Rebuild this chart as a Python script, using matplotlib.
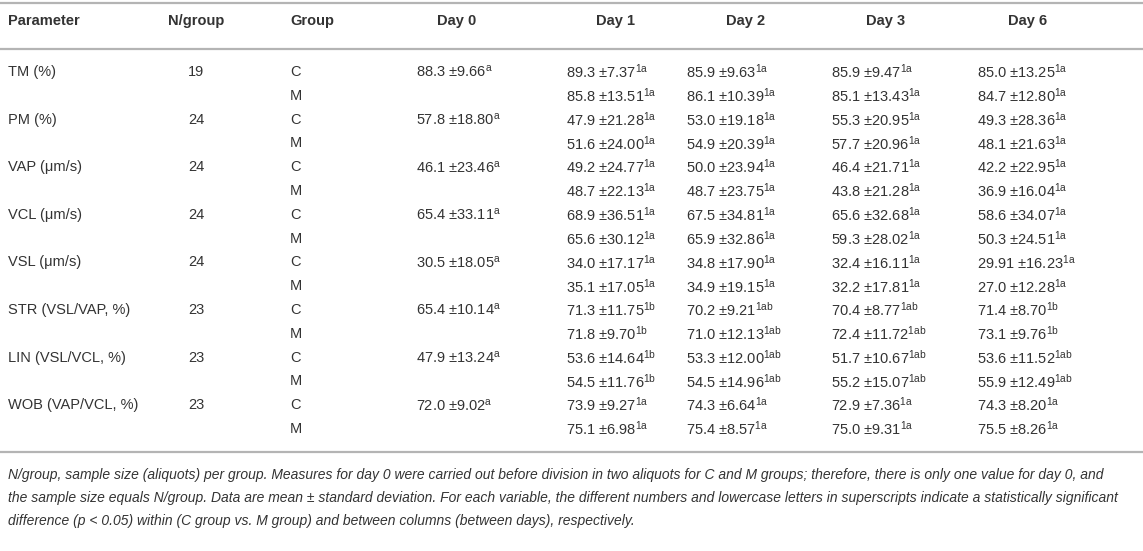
import matplotlib
matplotlib.use("Agg")
import matplotlib.pyplot as plt

plt.rcParams['font.family'] = ['Liberation Sans', 'DejaVu Sans']
plt.rcParams['mathtext.fontset'] = 'custom'
plt.rcParams['mathtext.rm'] = 'Liberation Sans'
plt.rcParams['mathtext.it'] = 'Liberation Sans:italic'
plt.rcParams['mathtext.bf'] = 'Liberation Sans:bold'

# data from the table
parameters = ["TM (%)", "PM (%)", "VAP (μm/s)", "VCL (μm/s)", "VSL (μm/s)",
              "STR (VSL/VAP, %)", "LIN (VSL/VCL, %)", "WOB (VAP/VCL, %)"]
n_group = [19, 24, 24, 24, 24, 23, 23, 23]
groups = ["C", "M"]
days = ["Day 0", "Day 1", "Day 2", "Day 3", "Day 6"]

day0_mean = ["88.3", "57.8", "46.1", "65.4", "30.5", "65.4", "47.9", "72.0"]
day0_sd = ["9.66", "18.80", "23.46", "33.11", "18.05", "10.14", "13.24", "9.02"]

# days 1, 2, 3, 6 -> [parameter][group][day]
mean_vals = [
    [["89.3", "85.9", "85.9", "85.0"], ["85.8", "86.1", "85.1", "84.7"]],
    [["47.9", "53.0", "55.3", "49.3"], ["51.6", "54.9", "57.7", "48.1"]],
    [["49.2", "50.0", "46.4", "42.2"], ["48.7", "48.7", "43.8", "36.9"]],
    [["68.9", "67.5", "65.6", "58.6"], ["65.6", "65.9", "59.3", "50.3"]],
    [["34.0", "34.8", "32.4", "29.91"], ["35.1", "34.9", "32.2", "27.0"]],
    [["71.3", "70.2", "70.4", "71.4"], ["71.8", "71.0", "72.4", "73.1"]],
    [["53.6", "53.3", "51.7", "53.6"], ["54.5", "54.5", "55.2", "55.9"]],
    [["73.9", "74.3", "72.9", "74.3"], ["75.1", "75.4", "75.0", "75.5"]],
]
sd_vals = [
    [["7.37", "9.63", "9.47", "13.25"], ["13.51", "10.39", "13.43", "12.80"]],
    [["21.28", "19.18", "20.95", "28.36"], ["24.00", "20.39", "20.96", "21.63"]],
    [["24.77", "23.94", "21.71", "22.95"], ["22.13", "23.75", "21.28", "16.04"]],
    [["36.51", "34.81", "32.68", "34.07"], ["30.12", "32.86", "28.02", "24.51"]],
    [["17.17", "17.90", "16.11", "16.23"], ["17.05", "19.15", "17.81", "12.28"]],
    [["11.75", "9.21", "8.77", "8.70"], ["9.70", "12.13", "11.72", "9.76"]],
    [["14.64", "12.00", "10.67", "11.52"], ["11.76", "14.96", "15.07", "12.49"]],
    [["9.27", "6.64", "7.36", "8.20"], ["6.98", "8.57", "9.31", "8.26"]],
]
# superscripts per parameter and day (same for C and M)
sup_vals = [
    ["1a", "1a", "1a", "1a"],
    ["1a", "1a", "1a", "1a"],
    ["1a", "1a", "1a", "1a"],
    ["1a", "1a", "1a", "1a"],
    ["1a", "1a", "1a", "1a"],
    ["1b", "1ab", "1ab", "1b"],
    ["1b", "1ab", "1ab", "1ab"],
    ["1a", "1a", "1a", "1a"],
]

footnote = [
    "N/group, sample size (aliquots) per group. Measures for day 0 were carried out before division in two aliquots for C and M groups; therefore, there is only one value for day 0, and",
    "the sample size equals N/group. Data are mean ± standard deviation. For each variable, the different numbers and lowercase letters in superscripts indicate a statistically significant",
    "difference (p < 0.05) within (C group vs. M group) and between columns (between days), respectively.",
]

W, H = 1143, 551
fig = plt.figure(figsize=(W / 100, H / 100), dpi=100)
ax = fig.add_axes([0, 0, 1, 1])
ax.set_xlim(0, W)
ax.set_ylim(H, 0)
ax.axis('off')

txt_color = '#333333'
line_color = '#b4b4b4'
fs = 10.5

# column positions (pixels)
x_param = 8
x_n = 196
x_group = 290
x_vals = [416, 566, 686, 831, 977]
x_head = [457, 615, 746, 886, 1028]

y_head = 21
y_row0 = 72
dy = 23.8

ax.plot([0, W], [3, 3], color=line_color, lw=1.6)
ax.plot([0, W], [49, 49], color=line_color, lw=1.6)

ax.text(x_param, y_head, "Parameter", fontsize=fs, fontweight='bold', color=txt_color, va='center')
ax.text(x_n, y_head, "N/group", fontsize=fs, fontweight='bold', color=txt_color, va='center', ha='center')
ax.text(x_group, y_head, "Group", fontsize=fs, fontweight='bold', color=txt_color, va='center')
for d, xh in zip(days, x_head):
    ax.text(xh, y_head, d, fontsize=fs, fontweight='bold', color=txt_color, va='center', ha='center')

row = 0
for i, p in enumerate(parameters):
    yc = y_row0 + row * dy
    ax.text(x_param, yc, p, fontsize=fs, color=txt_color, va='center')
    ax.text(x_n, yc, str(n_group[i]), fontsize=fs, color=txt_color, va='center', ha='center')
    ax.text(x_vals[0], yc, f"{day0_mean[i]} ±{day0_sd[i]}$^{{\\mathrm{{a}}}}$",
            fontsize=fs, color=txt_color, va='center')
    for g, grp in enumerate(groups):
        y = y_row0 + (row + g) * dy
        ax.text(x_group, y, grp, fontsize=fs, color=txt_color, va='center')
        for k in range(4):
            s = f"{mean_vals[i][g][k]} ±{sd_vals[i][g][k]}$^{{\\mathrm{{{sup_vals[i][k]}}}}}$"
            ax.text(x_vals[k + 1], y, s, fontsize=fs, color=txt_color, va='center')
    row += 2

y_bottom = y_row0 + (row - 1) * dy + 23
ax.plot([0, W], [y_bottom, y_bottom], color=line_color, lw=1.6)

for j, line in enumerate(footnote):
    ax.text(x_param, y_bottom + 23 + j * 23, line, fontsize=10.0, style='italic',
            color=txt_color, va='center')

fig.savefig("out.png", dpi=100)
